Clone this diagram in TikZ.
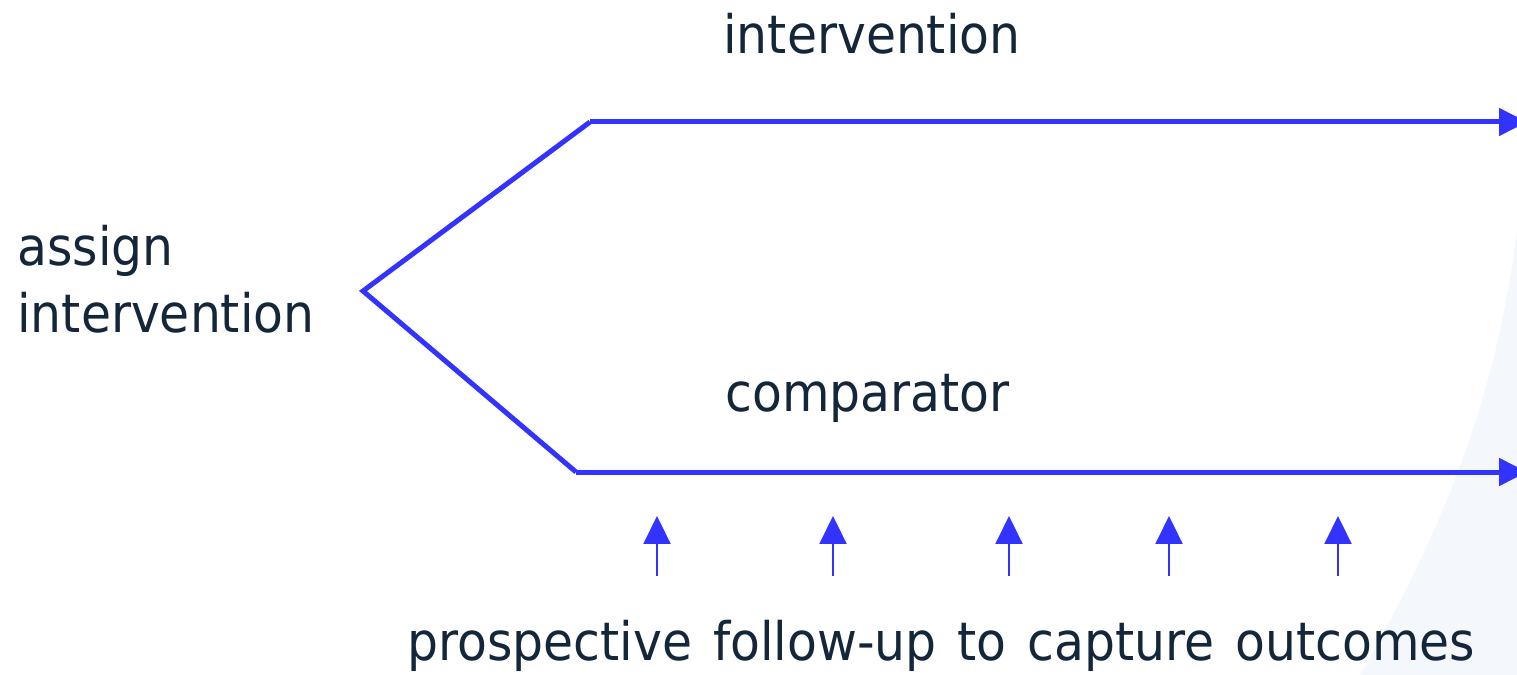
\documentclass[tikz,border=0pt]{standalone}
\usepackage{fontspec}
\setmainfont{DejaVu Sans}[FakeStretch=0.92]
\usepackage{xcolor}
\usetikzlibrary{arrows.meta}
\usetikzlibrary{positioning}
\definecolor{armblue}{RGB}{51,51,255}
\definecolor{labelnavy}{RGB}{19,38,58}
\definecolor{backshade}{RGB}{244,247,251}
\def\armwidth{0.1cm}
\def\tickwidth{0.045cm}

\begin{document}
\begin{tikzpicture}[x=0.02cm, y=-0.02cm,
  lbl/.style = {inner sep=0, text=labelnavy, font=\fontsize{30.2}{38.6}\selectfont},
  arm/.style = {draw=armblue, line width=\armwidth},
  armhead/.style = {-{Triangle[width=0.54cm,length=0.56cm]}},
  followup/.style = {draw=armblue, line width=\tickwidth, -{Triangle[width=0.54cm,length=0.56cm]}}]

\useasboundingbox (0,0) rectangle (1517,675);

% faint background shape at the right
\fill[backshade] (1517,228) .. controls (1495,420) and (1425,560) .. (1360,675)
  -- (1517,675) -- cycle;

% labels
\node[lbl, anchor=base west] (armtop) at (723,54) {intervention};
\node[lbl, anchor=base west] (armbottom) at (725,411) {comparator};
\node[lbl, anchor=base west, align=left] (assign) at (17,333) {assign\\intervention};
\node[lbl, anchor=base west] (outcomes) at (407,660)
  {\spaceskip=0.42cm prospective follow-up to capture outcomes};

% branching arms
\coordinate (split) at (363,291);
\coordinate (topbend) at (590,122);
\coordinate (topend) at (1527,122);
\coordinate (botbend) at (576,472);
\coordinate (botend) at (1527,472);

\draw[arm] (topbend) -- (split) -- (botbend);
\draw[arm, armhead] (topbend) -- (topend);
\draw[arm, armhead] (botbend) -- (botend);

% follow-up arrows
\foreach \x in {657,833,1009,1169,1338}{
  \coordinate (tail\x) at (\x,576);
  \coordinate (tip\x) at (\x,516);
  \draw[followup] (tail\x) -- (tip\x);
}

\end{tikzpicture}
\end{document}
